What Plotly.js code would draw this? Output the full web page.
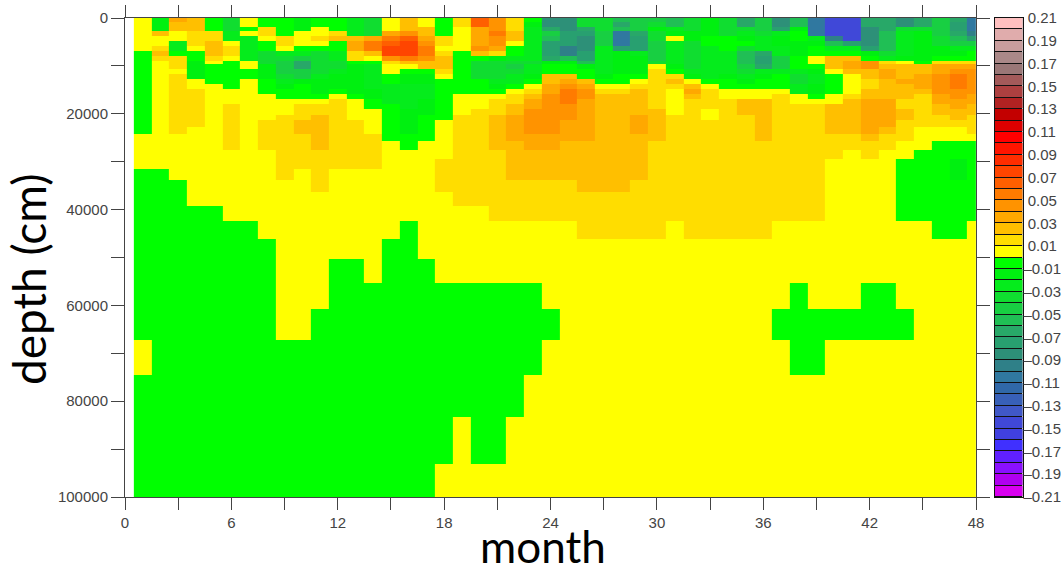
<!DOCTYPE html>
<html>
<head>
<meta charset="utf-8">
<script src="https://cdn.plot.ly/plotly-3.0.1.min.js"></script>
<style>html,body{margin:0;padding:0;background:#fff;overflow:hidden}#plot{width:1063px;height:569px}</style>
</head>
<body>
<div id="plot"></div>
<script>
// Depth cell edges in cm
const depthEdges = [0,836,1943,2716,3760,4742,5787,6831,7876,8920,9672,10717,11761,12806,13850,14895,15939,16983,18028,19073,20326,21308,22770,24170,25757,27575,29392,31481,33842,36286,39210,42344,46230,50408,55296,60727,67266,74430,83288,93169,100000];
// Month cell edges
const monthEdges = [0.5,1.5,2.5,3.5,4.5,5.5,6.5,7.5,8.5,9.5,10.5,11.5,12.5,13.5,14.5,15.5,16.5,17.5,18.5,19.5,20.5,21.5,22.5,23.5,24.5,25.5,26.5,27.5,28.5,29.5,30.5,31.5,32.5,33.5,34.5,35.5,36.5,37.5,38.5,39.5,40.5,41.5,42.5,43.5,44.5,45.5,46.5,47.5,48];
// Value class of each cell per month column, top to bottom, in 0.01 steps (+n: (n-1)*0.01..n*0.01, -n: the same below zero)
const monthColumns = [
/* 1*/[1,1,1,1,1,1,1,-1,-1,-1, -1,-1,-1,-1,-1,-1,-1,-1,-1,-1, -1,-1,-1,1,1,1,1,-1,-1,-1, -1,-1,-1,-1,-1,-1,1,-1,-1,-1],
/* 2*/[-2,-2,-2,3,1,1,2,3,2,1, 1,1,1,1,1,1,1,1,1,1, 1,1,1,1,1,1,1,-1,-1,-1, -1,-1,-1,-1,-1,-1,-1,-1,-1,-1],
/* 3*/[4,3,3,1,1,-3,-3,-1,2,2, 2,1,2,2,2,2,2,2,2,2, 2,2,2,1,1,1,1,1,-1,-1, -1,-1,-1,-1,-1,-1,-1,-1,-1,-1],
/* 4*/[3,3,3,2,2,2,1,-1,-1,-2, -2,-2,-2,1,1,2,2,2,2,2, 2,2,1,1,1,1,1,1,1,1, -1,-1,-1,-1,-1,-1,-1,-1,-1,-1],
/* 5*/[-1,-1,-1,2,2,3,3,3,2,1, -1,-1,-1,-1,1,1,1,1,1,1, 1,1,1,1,1,1,1,1,1,1, -1,-1,-1,-1,-1,-1,-1,-1,-1,-1],
/* 6*/[-4,-4,-4,-3,-3,1,2,2,1,-1, -1,-1,-1,-1,-1,1,1,1,2,2, 2,2,2,2,2,1,1,1,1,1, 1,-1,-1,-1,-1,-1,-1,-1,-1,-1],
/* 7*/[1,1,-1,1,-3,-3,-3,-3,-3,1, 1,-1,-1,1,1,1,1,1,1,1, 1,1,1,1,1,1,1,1,1,1, 1,-1,-1,-1,-1,-1,-1,-1,-1,-1],
/* 8*/[-1,-1,2,2,1,-1,-1,-4,-4,-4, -2,-2,-2,-1,-1,-1,1,1,1,1, 1,2,2,2,2,1,1,1,1,1, 1,1,-1,-1,-1,-1,-1,-1,-1,-1],
/* 9*/[-1,-1,-1,-1,2,2,1,-3,-4,-5, -5,-5,-4,-3,-2,-1,-1,1,1,1, 2,2,2,2,2,2,2,2,1,1, 1,1,1,1,1,1,-1,-1,-1,-1],
/*10*/[-2,-2,-2,1,1,1,-1,-3,-5,-7, -7,-5,-5,-2,-1,-1,-1,1,2,2, 2,3,3,2,2,2,2,1,1,1, 1,1,1,1,1,1,-1,-1,-1,-1],
/*11*/[-1,-1,1,1,2,1,-1,-4,-4,-4, -4,-4,-3,-2,-2,-2,-1,1,2,2, 3,3,3,3,3,2,2,2,2,1, 1,1,1,1,1,-1,-1,-1,-1,-1],
/*12*/[-1,-1,-1,2,3,-1,-1,-3,-3,-4, -4,-3,-2,-2,-2,-1,1,2,2,2, 2,2,2,2,2,2,2,1,1,1, 1,1,1,-1,-1,-1,-1,-1,-1,-1],
/*13*/[-3,-3,-3,-3,3,4,4,2,2,-1, -2,-2,-2,-2,-2,-2,-1,1,1,1, 1,2,2,2,2,2,2,1,1,1, 1,1,1,-1,-1,-1,-1,-1,-1,-1],
/*14*/[-4,-4,-4,-4,4,6,6,3,1,-1, -3,-3,-3,-3,-3,-2,-2,-1,-1,1, 1,1,1,2,2,2,2,1,1,1, 1,1,1,1,-1,-1,-1,-1,-1,-1],
/*15*/[1,1,1,4,6,7,8,8,5,2, 1,1,-1,-1,-3,-3,-3,-3,-1,-1, -1,-1,-1,-1,1,1,1,1,1,1, 1,1,-1,-1,-1,-1,-1,-1,-1,-1],
/*16*/[3,3,3,5,7,8,8,8,6,3, 1,-1,-2,-2,-3,-3,-3,-3,-3,-2, -2,-2,-2,-1,-1,1,1,1,1,1, 1,-1,-1,-1,-1,-1,-1,-1,-1,-1],
/*17*/[1,1,3,3,4,5,6,6,5,3, 3,-1,-2,-2,-3,-3,-3,-2,-2,-2, -1,-1,-1,-1,1,1,1,1,1,1, 1,1,1,-1,-1,-1,-1,-1,-1,-1],
/*18*/[-1,-1,-1,-1,2,2,1,2,3,3, 3,2,1,-1,-1,-1,-1,-1,-1,-1, -1,1,1,1,1,1,2,2,2,1, 1,1,1,1,-1,-1,-1,-1,-1,1],
/*19*/[2,2,1,1,1,1,1,-1,-1,-1, -1,-1,-1,-1,-1,-1,1,1,1,1, 2,2,2,2,2,2,2,2,2,2, 1,1,1,1,-1,-1,-1,-1,1,1],
/*20*/[7,7,4,4,4,4,5,3,-1,-4, -4,-4,-4,-1,-1,-1,1,1,1,2, 2,2,2,2,2,2,2,2,2,2, 1,1,1,1,-1,-1,-1,-1,-1,1],
/*21*/[5,5,5,6,5,5,4,2,-2,-4, -4,-4,-4,-3,-2,-1,1,2,2,2, 3,3,3,3,3,2,2,2,2,2, 2,1,1,1,-1,-1,-1,-1,-1,1],
/*22*/[2,2,2,3,3,1,-1,-1,-3,-4, -5,-4,-3,-3,-1,1,2,2,3,3, 4,4,4,4,3,3,3,3,2,2, 2,1,1,1,-1,-1,-1,-1,1,1],
/*23*/[-1,-2,-3,-3,-3,-3,-3,-3,-3,-4, -3,-3,-2,-1,1,2,3,4,4,5, 5,5,5,4,4,3,3,3,2,2, 2,1,1,1,-1,-1,-1,1,1,1],
/*24*/[-9,-9,-7,-5,-6,-8,-8,-8,-7,-2, -1,-1,3,3,4,4,5,5,5,5, 5,5,5,4,4,3,3,3,2,2, 2,1,1,1,1,-1,1,1,1,1],
/*25*/[-9,-9,-9,-8,-8,-8,-10,-10,-6,-2, -1,-1,3,4,5,6,6,6,5,5, 5,4,4,4,3,3,3,3,2,2, 2,1,1,1,1,1,1,1,1,1],
/*26*/[-4,-4,-7,-8,-9,-9,-9,-8,-8,-6, -2,-1,-1,3,4,5,5,4,4,4, 4,4,4,4,3,3,3,3,3,2, 2,2,1,1,1,1,1,1,1,1],
/*27*/[-4,-4,-4,-5,-5,-5,-3,-3,-3,-3, -3,-3,-2,-1,1,2,3,3,3,3, 3,3,3,3,3,3,3,3,3,2, 2,2,1,1,1,1,1,1,1,1],
/*28*/[-6,-7,-6,-11,-11,-11,-8,-2,-2,-2, -2,-2,-1,-1,1,2,3,3,3,3, 3,3,3,3,3,3,3,3,3,2, 2,2,1,1,1,1,1,1,1,1],
/*29*/[-5,-5,-5,-7,-8,-8,-8,-3,-2,-2, -2,-2,-1,1,2,3,3,3,3,3, 4,4,4,3,3,3,3,3,2,2, 2,2,1,1,1,1,1,1,1,1],
/*30*/[-5,-4,-2,-4,-4,-5,-5,-5,-5,-4, 1,2,2,2,2,2,2,2,2,3, 3,3,3,3,2,2,2,2,2,2, 2,2,1,1,1,1,1,1,1,1],
/*31*/[-6,-6,-3,-2,1,-3,-3,-3,-3,-3, -2,-1,2,3,2,1,1,1,1,1, 2,2,2,2,2,2,2,2,2,2, 2,1,1,1,1,1,1,1,1,1],
/*32*/[-4,-4,-4,-2,-2,-4,-4,-4,-4,-4, -4,-3,-2,1,3,4,3,2,2,2, 2,2,2,2,2,2,2,2,2,2, 2,2,1,1,1,1,1,1,1,1],
/*33*/[-2,-2,-2,-2,-1,-1,-3,-3,-3,-3, -3,-3,-3,-1,1,2,2,2,2,1, 1,2,2,2,2,2,2,2,2,2, 2,2,1,1,1,1,1,1,1,1],
/*34*/[-4,-4,-4,-4,-1,-1,-1,-3,-3,-3, -3,-3,-2,-1,-1,1,1,2,2,2, 2,2,2,2,2,2,2,2,2,2, 2,2,1,1,1,1,1,1,1,1],
/*35*/[-7,-7,-4,-3,-2,-1,-4,-6,-6,-6, -5,-4,-3,-2,-1,1,1,3,3,3, 2,2,2,2,2,2,2,2,2,2, 2,2,1,1,1,1,1,1,1,1],
/*36*/[-5,-5,-5,-4,-3,-3,-3,-7,-8,-8, -7,-3,-2,-1,-1,1,1,3,3,3, 3,3,3,3,2,2,2,2,2,2, 2,2,1,1,1,1,1,1,1,1],
/*37*/[-9,-9,-8,-3,-2,-2,-3,-3,-5,-5, -5,-3,-1,-1,-1,1,2,2,2,2, 2,2,2,2,2,2,2,2,2,2, 2,1,1,1,1,-1,1,1,1,1],
/*38*/[-6,-6,-2,-1,-1,-2,-2,-2,-1,-1, -1,-3,-4,-4,-3,-3,1,1,2,2, 2,2,2,2,2,2,2,2,2,2, 2,1,1,1,-1,-1,-1,1,1,1],
/*39*/[-11,-11,-11,-11,-3,-2,-1,-1,1,1, -1,-2,-3,-3,-2,-2,-1,1,2,2, 2,2,2,2,2,2,2,2,2,2, 2,1,1,1,1,-1,-1,1,1,1],
/*40*/[-15,-15,-15,-15,-10,-6,-3,-1,3,3, 3,1,-1,-1,-1,-1,1,1,3,3, 3,3,3,2,2,2,1,1,1,1, 1,1,1,1,1,-1,1,1,1,1],
/*41*/[-15,-15,-15,-15,-15,-8,-3,-1,3,4, 4,3,1,1,1,1,2,3,3,3, 3,3,3,2,2,1,1,1,1,1, 1,1,1,1,1,-1,1,1,1,1],
/*42*/[-7,-7,-9,-9,-9,-9,-8,-2,-1,5, 5,3,3,2,2,3,3,4,4,4, 4,4,4,3,2,2,1,1,1,1, 1,1,1,1,-1,-1,1,1,1,1],
/*43*/[-7,-7,-7,-6,-6,-6,-6,-4,-3,2, 3,4,4,3,3,3,3,4,4,4, 4,4,3,2,2,1,1,1,1,1, 1,1,1,1,-1,-1,1,1,1,1],
/*44*/[-9,-9,-4,-3,-3,-3,-3,-3,-2,1, 3,3,3,4,3,3,3,2,2,3, 3,2,2,2,1,1,-1,-1,-1,-1, -1,1,1,1,1,-1,1,1,1,1],
/*45*/[-7,-7,-4,-2,-2,-2,-2,-2,-2,-1, 3,3,4,4,4,3,2,2,2,2, 2,2,1,1,1,-1,-1,-1,-1,-1, -1,1,1,1,1,1,1,1,1,1],
/*46*/[-5,-5,-5,-5,-4,-4,-2,-2,-1,2, 4,4,5,5,5,5,4,4,3,3, 2,2,1,1,-1,-1,-1,-1,-1,-1, -1,-1,1,1,1,1,1,1,1,1],
/*47*/[-7,-8,-8,-7,-6,-5,-3,-2,-1,2, 4,5,6,6,6,5,5,4,4,3, 3,2,1,1,-1,-1,-2,-2,-1,-1, -1,-1,1,1,1,1,1,1,1,1],
/*48*/[-11,-11,-11,-10,-8,-5,-3,-1,-1,2, 4,5,5,5,5,5,4,4,3,3, 2,2,2,1,-1,-1,-1,-1,-1,-1, -1,1,1,1,1,1,1,1,1,1]
];
// Colour of each class, lowest value first
const bandColors = ['#d800f0','#b000f0','#8a10ff','#6020ff','#4030ff','#4040e0','#4048d8','#4058c8','#3860b8','#3068a8','#3078a0','#2f8088','#2d9078','#28a070','#28a868','#20bf55','#18cf42','#10dd30','#05ec1c','#00f010','#00ff00',
'#ffff00','#ffdd00','#ffbf00','#ffa800','#ff9300','#ff7b00','#ff5f00','#ff4500','#ff2d00','#ff1500','#ff0000','#dd0000','#c30000','#b22222','#ad4040','#a35a5a','#9a7777','#aa8888','#c89d9d','#e0acac','#ffc0c0'];
const legendEdges = [-0.21,-0.20,-0.19,-0.18,-0.17,-0.16,-0.15,-0.14,-0.13,-0.12,-0.11,-0.10,-0.09,-0.08,-0.07,-0.06,-0.05,-0.04,-0.03,-0.02,-0.01,0,0.01,0.02,0.03,0.04,0.05,0.06,0.07,0.08,0.09,0.10,0.11,0.12,0.13,0.14,0.15,0.16,0.17,0.18,0.19,0.20,0.21];
const legendTicks = [-0.21,-0.19,-0.17,-0.15,-0.13,-0.11,-0.09,-0.07,-0.05,-0.03,-0.01,0.01,0.03,0.05,0.07,0.09,0.11,0.13,0.15,0.17,0.19,0.21];
const xTicks = [0,3,6,9,12,15,18,21,24,27,30,33,36,39,42,45,48];
const xLabels = ['0','','6','','12','','18','','24','','30','','36','','42','','48'];
const yTicks = [0,10000,20000,30000,40000,50000,60000,70000,80000,90000,100000];
const yLabels = ['0','','20000','','40000','','60000','','80000','','100000'];

const W = 1063, H = 569;
const bandValue = b => (b > 0 ? b - 0.5 : b + 0.5) / 100;
const zMain = monthColumns.map(col => col.map(bandValue));
const zLegend = legendEdges.slice(0, -1).map((e, i) => [(e + legendEdges[i + 1]) / 2]);
const colorscale = [];
bandColors.forEach((c, i) => {
  colorscale.push([i / bandColors.length, c]);
  colorscale.push([(i + 1) / bandColors.length, c]);
});
const labelFont = {family: 'Liberation Sans, Arial, sans-serif', size: 15, color: '#444'};

const traces = [
  {type: 'heatmap', x: monthEdges, y: depthEdges, z: zMain, transpose: true, colorscale, zmin: -0.21, zmax: 0.21, showscale: false, hoverinfo: 'skip'},
  {type: 'heatmap', x: [0, 1], y: legendEdges, z: zLegend, colorscale, zmin: -0.21, zmax: 0.21, showscale: false, ygap: 1, xaxis: 'x2', yaxis: 'y2', hoverinfo: 'skip'}
];
const layout = {
  width: W, height: H, paper_bgcolor: '#fff', plot_bgcolor: '#fff',
  margin: {l: 0, r: 0, t: 0, b: 0}, showlegend: false,
  xaxis: {domain: [125 / W, 976 / W], range: [0, 48], tickmode: 'array', tickvals: xTicks, ticktext: xLabels, ticks: 'outside', ticklen: 12, tickcolor: '#444', tickwidth: 1, showline: true, linecolor: '#444', linewidth: 1, mirror: 'ticks', showgrid: false, zeroline: false, tickfont: labelFont, tickangle: 0, automargin: false},
  yaxis: {domain: [1 - 497 / H, 1 - 18 / H], range: [100000, 0], tickmode: 'array', tickvals: yTicks, ticktext: yLabels, ticks: 'outside', ticklen: 13, tickcolor: '#444', tickwidth: 1, showline: true, linecolor: '#444', linewidth: 1, mirror: 'ticks', showgrid: false, zeroline: false, tickfont: labelFont, automargin: false},
  xaxis2: {domain: [995 / W, 1022.5 / W], range: [0, 1], anchor: 'y2', showticklabels: false, ticks: '', showgrid: false, zeroline: false, showline: true, mirror: true, linecolor: '#111', linewidth: 1},
  yaxis2: {domain: [1 - 497 / H, 1 - 18 / H], range: [-0.21, 0.21], anchor: 'x2', side: 'right', tickmode: 'array', tickvals: legendTicks, ticktext: legendTicks.map(v => v < 0 ? '\u2013' + Math.abs(v).toFixed(2) : '\u00a0' + v.toFixed(2)), ticks: '', showgrid: false, zeroline: false, showline: true, mirror: true, linecolor: '#111', linewidth: 1, tickfont: labelFont, ticklabelstandoff: -3},
  shapes: [{type: 'rect', xref: 'x2', yref: 'y2', x0: 0, x1: 1, y0: -0.21, y1: 0.21, fillcolor: '#111', line: {width: 0}, layer: 'below'}],
  annotations: [
    {text: 'month', xref: 'paper', yref: 'paper', x: 542.5 / W, y: 1 - 545.5 / H, xanchor: 'center', yanchor: 'middle', showarrow: false, font: {family: 'Lato, sans-serif', size: 44, color: '#000'}},
    {text: 'depth (cm)', xref: 'paper', yref: 'paper', x: 28 / W, y: 1 - 279 / H, xanchor: 'center', yanchor: 'middle', textangle: -90, showarrow: false, font: {family: 'Lato, sans-serif', size: 46, color: '#000'}}
  ]
};
Plotly.newPlot('plot', traces, layout, {displayModeBar: false, staticPlot: true});
</script>
</body>
</html>
